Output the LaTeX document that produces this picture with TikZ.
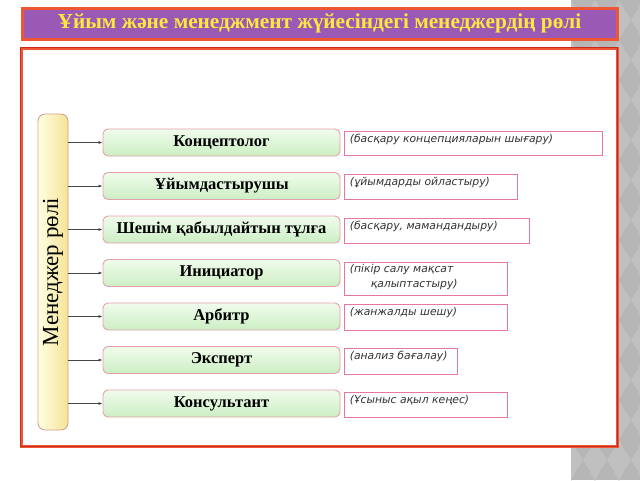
\documentclass[tikz,border=0pt]{standalone}
\usepackage{fontspec}
\setmainfont{Liberation Serif}
\newfontfamily\descfont{DejaVu Sans}
\usetikzlibrary{arrows.meta}
\definecolor{stripgray}{RGB}{182,182,182}
\definecolor{stripdia}{RGB}{192,192,192}
\definecolor{framered}{RGB}{238,86,52}
\definecolor{framedark}{RGB}{205,40,30}
\definecolor{titlepurple}{RGB}{155,89,182}
\definecolor{titleyellow}{RGB}{255,232,60}
\definecolor{rolebd}{RGB}{228,160,170}
\definecolor{roletop}{RGB}{240,252,236}
\definecolor{rolebot}{RGB}{204,238,196}
\definecolor{barleft}{RGB}{255,255,226}
\definecolor{barright}{RGB}{244,226,150}
\definecolor{barbd}{RGB}{214,160,150}
\definecolor{descbd}{RGB}{230,120,160}
\definecolor{arrowgray}{RGB}{70,70,70}
\begin{document}
\begin{tikzpicture}[x=1pt,y=-1pt,
  rolebox/.style={draw=rolebd, line width=0.9pt, rounded corners=5pt,
    top color=roletop, bottom color=rolebot, minimum width=237pt,
    minimum height=27pt, inner sep=0pt,
    font=\bfseries\fontsize{16.5}{18}\selectfont},
  descbox/.style={draw=descbd, line width=0.7pt, fill=white, inner sep=0pt},
  desctext/.style={anchor=north west, inner sep=0pt, align=left,
    font=\descfont\itshape\fontsize{10.8}{15}\selectfont, text=black!80},
  conn/.style={draw=arrowgray, line width=0.7pt, -{Latex[length=4pt,width=3pt]}}
]
\useasboundingbox (0,0) rectangle (640,480);
\fill[white] (0,0) rectangle (640,480);
% right strip
\fill[stripgray] (571,0) rectangle (640,480);
\begin{scope}
\clip (571,0) rectangle (640,480);
\foreach \i in {0,...,12}{
  \foreach \j in {0,...,3}{
    \fill[stripdia] ({571+\j*24},{\i*40}) -- ++(12,20) -- ++(-12,20) -- ++(-12,-20) -- cycle;
  }
}
\end{scope}
% title
\node[draw=framered, line width=3pt, fill=titlepurple, minimum width=595pt,
  minimum height=31pt, inner sep=0pt, text=titleyellow,
  font=\bfseries\fontsize{21.3}{24}\selectfont] (title) at (319.5,23.5)
  {Ұйым және менеджмент жүйесіндегі менеджердің рөлі};
% frame
\node[draw=framered, line width=3pt, minimum width=596pt, minimum height=398pt,
  inner sep=0pt, fill=white] (frame) at (319,247) {};
\draw[framedark, line width=0.8pt] ([shift={(1,1)}]frame.north west) rectangle ([shift={(-1,-1)}]frame.south east);
% vertical bar
\node[draw=barbd, line width=0.9pt, rounded corners=7pt, left color=barleft,
  right color=barright, minimum width=316pt, minimum height=30pt, inner sep=0pt,
  rotate=90, font=\fontsize{23}{25}\selectfont] (bar) at (53,272) {Менеджер рөлі};
% role boxes
\node[rolebox] (r1) at (221.5,142.5) {Концептолог};
\node[rolebox] (r2) at (221.5,186) {Ұйымдастырушы};
\node[rolebox] (r3) at (221.5,229.5) {Шешім қабылдайтын тұлға};
\node[rolebox] (r4) at (221.5,273) {Инициатор};
\node[rolebox] (r5) at (221.5,316.5) {Арбитр};
\node[rolebox] (r6) at (221.5,360) {Эксперт};
\node[rolebox] (r7) at (221.5,403.5) {Консультант};
% connectors
\foreach \r in {r1,r2,r3,r4,r5,r6,r7}{
  \draw[conn] (bar.south |- \r.west) -- (\r.west);
}
% description boxes
\node[descbox, minimum width=258pt, minimum height=24pt] (d1) at (473,143) {};
\node[descbox, minimum width=173pt, minimum height=25pt] (d2) at (430.5,186.5) {};
\node[descbox, minimum width=185pt, minimum height=25pt] (d3) at (436.5,230.5) {};
\node[descbox, minimum width=163pt, minimum height=33pt] (d4) at (425.5,278.5) {};
\node[descbox, minimum width=163pt, minimum height=26pt] (d5) at (425.5,317) {};
\node[descbox, minimum width=113pt, minimum height=26pt] (d6) at (400.5,361) {};
\node[descbox, minimum width=163pt, minimum height=25pt] (d7) at (425.5,404.5) {};
\node[desctext] (t1) at ([shift={(6,3.5)}]d1.north west) {(басқару концепцияларын шығару)};
\node[desctext] (t2) at ([shift={(6,3.5)}]d2.north west) {(ұйымдарды ойластыру)};
\node[desctext] (t3) at ([shift={(6,3.5)}]d3.north west) {(басқару, мамандандыру)};
\node[desctext] (t4) at ([shift={(6,2)}]d4.north west) {(пікір салу мақсат\\\hspace*{21pt}қалыптастыру)};
\node[desctext] (t5) at ([shift={(6,3.5)}]d5.north west) {(жанжалды шешу)};
\node[desctext] (t6) at ([shift={(6,3.5)}]d6.north west) {(анализ бағалау)};
\node[desctext] (t7) at ([shift={(6,3.5)}]d7.north west) {(Ұсыныс ақыл кеңес)};
\end{tikzpicture}
\end{document}
